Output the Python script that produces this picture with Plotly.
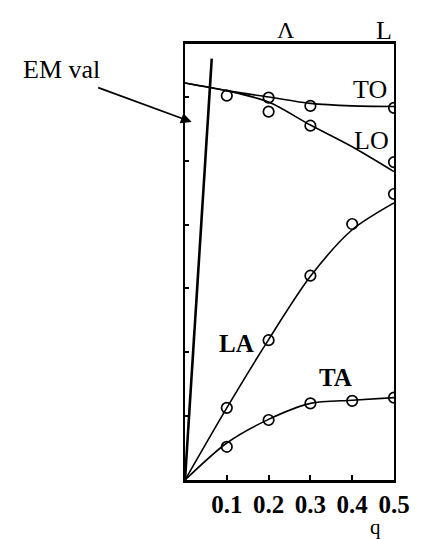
import plotly.graph_objects as go

# Measured phonon branches (open circles)
q_to = [0.1, 0.2, 0.3, 0.5]
to_pts = [6.02, 5.99, 5.86, 5.83]
q_lo = [0.2, 0.3, 0.5]
lo_pts = [5.77, 5.55, 4.98]
q_la = [0.1, 0.2, 0.3, 0.4, 0.5]
la_pts = [1.13, 2.19, 3.20, 4.01, 4.48]
q_ta = [0.1, 0.2, 0.3, 0.4, 0.5]
ta_pts = [0.52, 0.94, 1.20, 1.24, 1.29]

# Calculated dispersion curves
q_curve = [0.0, 0.1, 0.2, 0.3, 0.4, 0.5]
to_curve = [6.22, 6.10, 6.00, 5.90, 5.86, 5.85]
lo_curve = [6.22, 6.10, 5.92, 5.56, 5.22, 4.83]
la_curve = [0.0, 1.13, 2.20, 3.19, 3.92, 4.34]
ta_curve = [0.0, 0.58, 0.95, 1.20, 1.25, 1.29]

# Electromagnetic (light) line
q_em = [0.0, 0.064]
em_line = [0.0, 6.6]

x_ticks = [0.1, 0.2, 0.3, 0.4, 0.5]
x_ticktext = ["0.1", "0.2", "0.3", "0.4", "0.5"]
y_ticks = [1, 2, 3, 4, 5, 6]

SERIF = "Liberation Serif"
W, H = 422, 539
M_L, M_R, M_T, M_B = 185, 19, 44, 59


def px(xpix):
    """Horizontal pixel -> paper fraction."""
    return (xpix - M_L) / (W - M_L - M_R)


def py(ypix):
    """Vertical pixel (from top) -> paper fraction."""
    return (H - M_B - ypix) / (H - M_B - M_T)


fig = go.Figure()

for yc in [to_curve, lo_curve, la_curve, ta_curve]:
    fig.add_trace(go.Scatter(
        x=q_curve, y=yc, mode="lines",
        line=dict(color="black", width=1.6, shape="spline", smoothing=0.8),
        hoverinfo="skip"))

fig.add_trace(go.Scatter(
    x=q_em, y=em_line, mode="lines",
    line=dict(color="black", width=2.6), hoverinfo="skip"))

for qx, yp in [(q_to, to_pts), (q_lo, lo_pts), (q_la, la_pts), (q_ta, ta_pts)]:
    fig.add_trace(go.Scatter(
        x=qx, y=yp, mode="markers",
        marker=dict(symbol="circle-open", size=10.5, color="black",
                    line=dict(width=1.7, color="black"))))


def label(x, y, text, size, xref="x", yref="y"):
    return dict(x=x, y=y, xref=xref, yref=yref, text=text, showarrow=False,
                xanchor="center", yanchor="middle",
                font=dict(family=SERIF, size=size, color="black"))


annotations = [
    label(0.443, 6.12, "TO", 26),
    label(0.447, 5.32, "LO", 26),
    label(0.124, 2.14, "<b>LA</b>", 25),
    label(0.36, 1.6, "<b>TA</b>", 25),
    # symmetry points along the top edge
    label(0.241, py(30), "Λ", 24, yref="paper"),
    label(0.475, py(30), "L", 26, yref="paper"),
    # axis title
    label(0.456, py(527), "q", 21, yref="paper"),
    # light-line label
    label(px(56), py(70), "EM val", 26, xref="paper", yref="paper"),
    # arrow pointing at the light line
    dict(x=0.016, y=py(122), xref="x", yref="paper",
         ax=-95, ay=-35, axref="pixel", ayref="pixel",
         text="", showarrow=True, arrowhead=2, arrowsize=1.2,
         arrowwidth=1.8, arrowcolor="black"),
]

fig.update_layout(
    width=W, height=H,
    margin=dict(l=M_L, r=M_R, t=M_T, b=M_B),
    paper_bgcolor="white", plot_bgcolor="white",
    showlegend=False,
    annotations=annotations,
    xaxis=dict(range=[0, 0.5], tickvals=x_ticks,
               ticktext=["<b>%s</b>" % t for t in x_ticktext],
               ticks="inside", ticklen=5, tickwidth=1.5, tickcolor="black",
               showline=True, linewidth=3, linecolor="black", mirror=True,
               showgrid=False, zeroline=False,
               tickfont=dict(family=SERIF, size=25, color="black")),
    yaxis=dict(range=[0, 6.83], tickvals=y_ticks, showticklabels=False,
               ticks="inside", ticklen=4, tickwidth=1.5, tickcolor="black",
               showline=True, linewidth=2, linecolor="black", mirror=True,
               showgrid=False, zeroline=False),
)

fig.write_html("out.html")
